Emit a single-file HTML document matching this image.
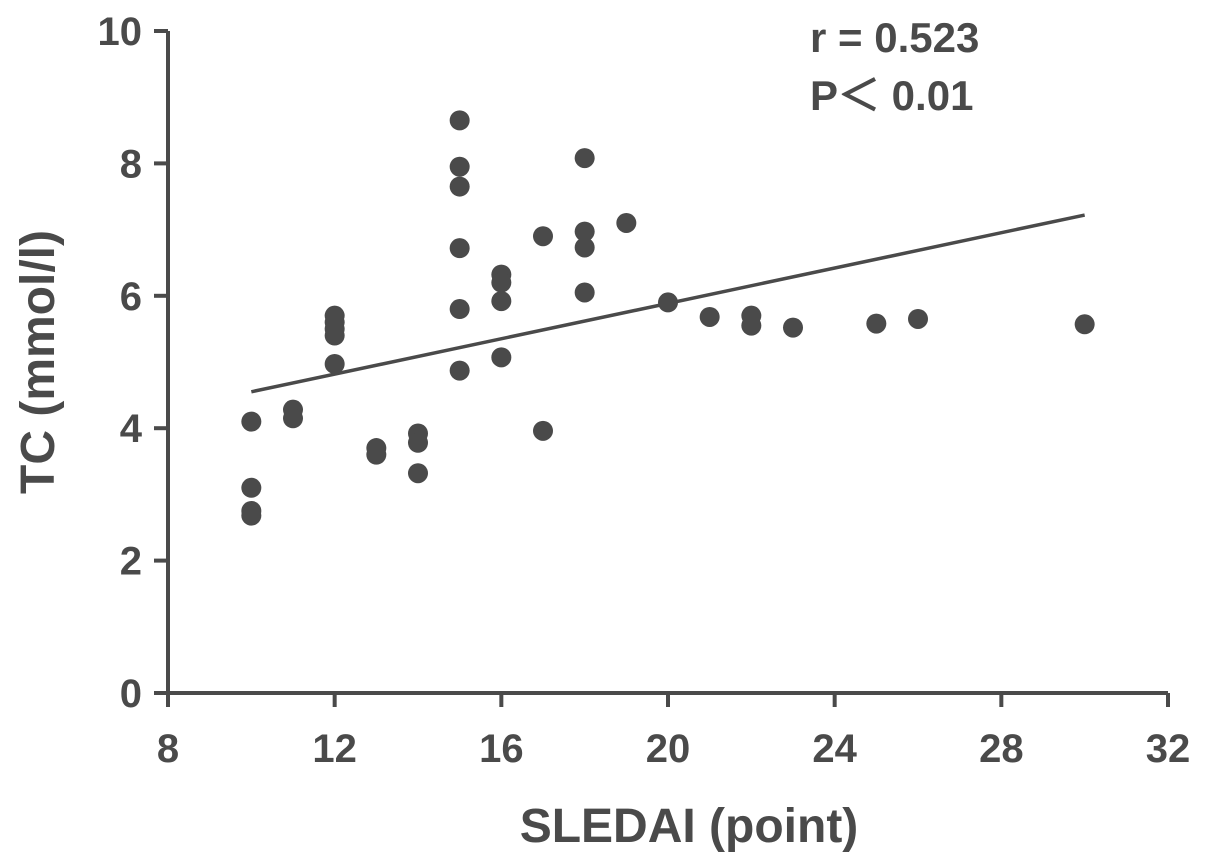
<!DOCTYPE html>
<html><head><meta charset="utf-8"><style>
body{margin:0;background:#fff}
svg text{font-family:"Liberation Sans",sans-serif;font-weight:bold;fill:#4a4a4a}
</style></head><body>
<svg id="chart" width="1205" height="861" xmlns="http://www.w3.org/2000/svg">
<g id="axes"></g><g id="marks"></g>
<text x="810" y="52" font-size="42">r = 0.523</text>
<text x="810" y="110" font-size="42">P＜ 0.01</text>
<text x="689" y="842" font-size="48" text-anchor="middle">SLEDAI (point)</text>
<text transform="translate(54,362) rotate(-90)" font-size="48" text-anchor="middle">TC (mmol/l)</text>
</svg>
<script>
const xs=[10,10,10,10,11,11,12,12,12,12,12,13,13,14,14,14,15,15,15,15,15,15,16,16,16,16,17,17,18,18,18,18,19,20,21,22,22,23,25,26,30];
const ys=[4.1,3.1,2.75,2.68,4.28,4.15,5.7,5.6,5.5,5.4,4.97,3.7,3.6,3.92,3.78,3.32,8.65,7.95,7.65,6.72,5.8,4.87,6.32,6.2,5.92,5.07,6.9,3.96,8.08,6.97,6.73,6.05,7.1,5.9,5.68,5.7,5.55,5.52,5.58,5.65,5.57];
const xTicks=[8,12,16,20,24,28,32];
const yTicks=[0,2,4,6,8,10];
const fitX=[10,30];
const fitY=[4.55,7.22];
const X=v=>168+(v-8)*1000/24, Y=v=>693-v*66.2;
const NS="http://www.w3.org/2000/svg";
const ax=document.getElementById('axes'), mk=document.getElementById('marks');
function mkEl(t,a,p){const e=document.createElementNS(NS,t);for(const k in a)e.setAttribute(k,a[k]);p.appendChild(e);return e;}
let e=mkEl('line',{x1:168,y1:Y(10),x2:168,y2:693,stroke:'#4a4a4a','stroke-width':4},ax);


e=mkEl('line',{x1:168,y1:693,x2:X(32),y2:693,stroke:'#4a4a4a','stroke-width':4},ax);


xTicks.forEach(t=>{
 let l=mkEl('line',{x1:X(t),y1:693,x2:X(t),y2:707,stroke:'#4a4a4a','stroke-width':4},ax);
 
 
 let tx=mkEl('text',{x:X(t),y:762,'font-size':40,'text-anchor':'middle'},ax);tx.textContent=t;
 
 
});
yTicks.forEach(t=>{
 let l=mkEl('line',{x1:154,y1:Y(t),x2:168,y2:Y(t),stroke:'#4a4a4a','stroke-width':4},ax);
 
 
 let tx=mkEl('text',{x:142,y:Y(t)+14,'font-size':40,'text-anchor':'end'},ax);tx.textContent=t;
 
 
});
e=mkEl('line',{x1:X(fitX[0]),y1:Y(fitY[0]),x2:X(fitX[1]),y2:Y(fitY[1]),stroke:'#4a4a4a','stroke-width':3.5},mk);


xs.forEach((x,i)=>{
 let c=mkEl('circle',{cx:X(x),cy:Y(ys[i]),r:10,fill:'#4a4a4a'},mk);
 
 
});
</script>
</body></html>
